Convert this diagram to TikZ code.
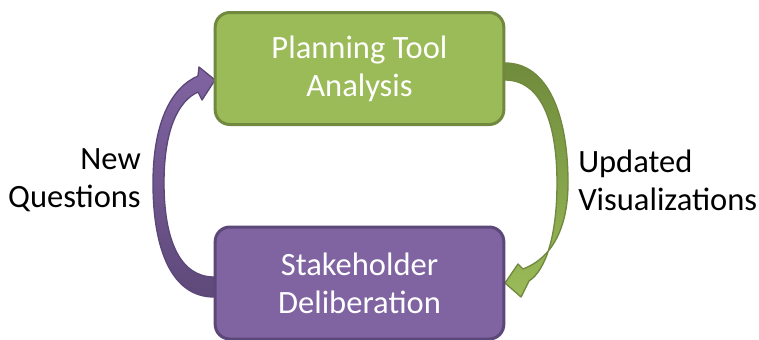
\documentclass[tikz,border=0pt]{standalone}
\usepackage{fontspec}
\setmainfont{Carlito}
\begin{document}
\begin{tikzpicture}[x=0.75pt,y=-0.75pt,
  box/.style={draw, line width=2.25pt, rounded corners=11pt, minimum width=216.5pt, minimum height=84pt,
    text=white, align=center, font=\fontsize{24.4}{28.5}\selectfont, inner sep=0pt},
  greenbox/.style={box, fill=pgreen, draw=pgreenline},
  purplebox/.style={box, fill=ppurple, draw=ppurpleline},
  lbl/.style={font=\fontsize{24.4}{28.5}\selectfont, inner sep=0pt},
  greenarrow/.style={top color=pgreendark, bottom color=pgreen, draw=pgreenline, line width=1pt, line join=round},
  purplearrow/.style={top color=ppurple, bottom color=ppurpledark, draw=ppurpleline, line width=1pt, line join=round}]
\definecolor{pgreen}{HTML}{9BBB59}
\definecolor{pgreenline}{HTML}{71893F}
\definecolor{pgreendark}{HTML}{6F8B3C}
\definecolor{ppurple}{HTML}{8064A2}
\definecolor{ppurpleline}{HTML}{5C4779}
\definecolor{ppurpledark}{HTML}{5F497A}
\useasboundingbox (0,0) rectangle (759,339);
\fill[white] (0,0) rectangle (759,339);
\begin{scope}
\clip (0,0) rectangle (759,339);
% arrows
\path[purplearrow] (214,297) .. controls (172,297) and (153,250) .. (153,183)
  .. controls (153,125) and (170,88) .. (198,76)
  -- (199,67) -- (215,80) -- (202,100) -- (198,92)
  .. controls (178,101) and (164,130) .. (164,183)
  .. controls (164,240) and (180,277) .. (214,277) -- cycle;
\path[greenarrow] (505,63) .. controls (548,63) and (568,115) .. (568,183)
  .. controls (568,228) and (552,258) .. (523,269)
  -- (518,264) -- (505,283) -- (521,297) -- (529,281)
  .. controls (546,270) and (557,235) .. (557,183)
  .. controls (557,120) and (540,80) .. (505,80) -- cycle;
\node[greenbox] (top) at (359.5,68.5) {Planning Tool\\Analysis};
\node[purplebox] (bot) at (359.5,283) {Stakeholder\\Deliberation};
\end{scope}
\node[lbl, anchor=east, align=right] (nq) at (141,180) {New\\Questions};
\node[lbl, anchor=west, align=left] (uv) at (578,180) {Updated\\Visualizations};
\end{tikzpicture}
\end{document}
